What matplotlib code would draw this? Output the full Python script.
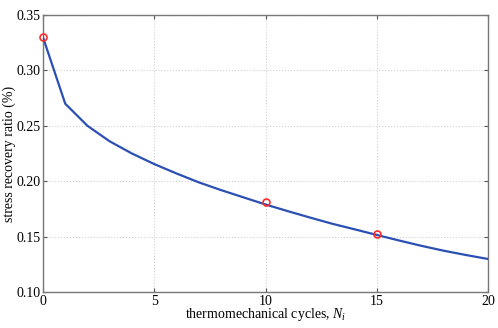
import matplotlib
matplotlib.use("Agg")
import matplotlib.pyplot as plt

cycles = list(range(0, 21))
ratio = [0.330, 0.270, 0.250, 0.236, 0.225, 0.2155, 0.207, 0.199, 0.192, 0.1855,
         0.179, 0.173, 0.1672, 0.1616, 0.1566, 0.1515, 0.1465, 0.1417, 0.1373,
         0.1334, 0.1298]
exp_cycles = [0, 10, 15]
exp_ratio = [0.330, 0.181, 0.152]
xticks = [0, 5, 10, 15, 20]
yticks = [0.10, 0.15, 0.20, 0.25, 0.30, 0.35]

plt.rcParams['font.family'] = ['Liberation Serif', 'DejaVu Serif']
plt.rcParams['mathtext.fontset'] = 'custom'
plt.rcParams['mathtext.it'] = 'Liberation Serif:italic'
plt.rcParams['mathtext.rm'] = 'Liberation Serif'

fig = plt.figure(figsize=(4.98, 3.28), dpi=100)
ax = fig.add_axes([0.0863, 0.1098, 0.8937, 0.8442])

ax.plot(cycles, ratio, color='#2b4fb3', lw=1.6, zorder=3)
ax.plot(exp_cycles, exp_ratio, 'o', mfc='none', mec='#ff2a2a', ms=5, mew=1.2,
        zorder=4, clip_on=False)

ax.set_xlim(0, 20)
ax.set_ylim(0.10, 0.35)
ax.set_xticks(xticks)
ax.set_xticklabels([str(v) for v in xticks])
ax.set_yticks(yticks)
ax.set_yticklabels([f"{v:.2f}" for v in yticks])
ax.grid(True, color='#d0d0d0', linestyle=':', linewidth=0.8)
ax.tick_params(direction='in', length=3, width=0.8, color='#555555',
               labelsize=10, top=True, right=True, pad=2)
for s in ax.spines.values():
    s.set_color('#777777')
    s.set_linewidth(1.0)

ax.set_xlabel('thermomechanical cycles, $N_i$', fontsize=10, labelpad=-1)
ax.set_ylabel('stress recovery ratio (%)', fontsize=10, labelpad=0)

fig.savefig('out.png', dpi=100)
